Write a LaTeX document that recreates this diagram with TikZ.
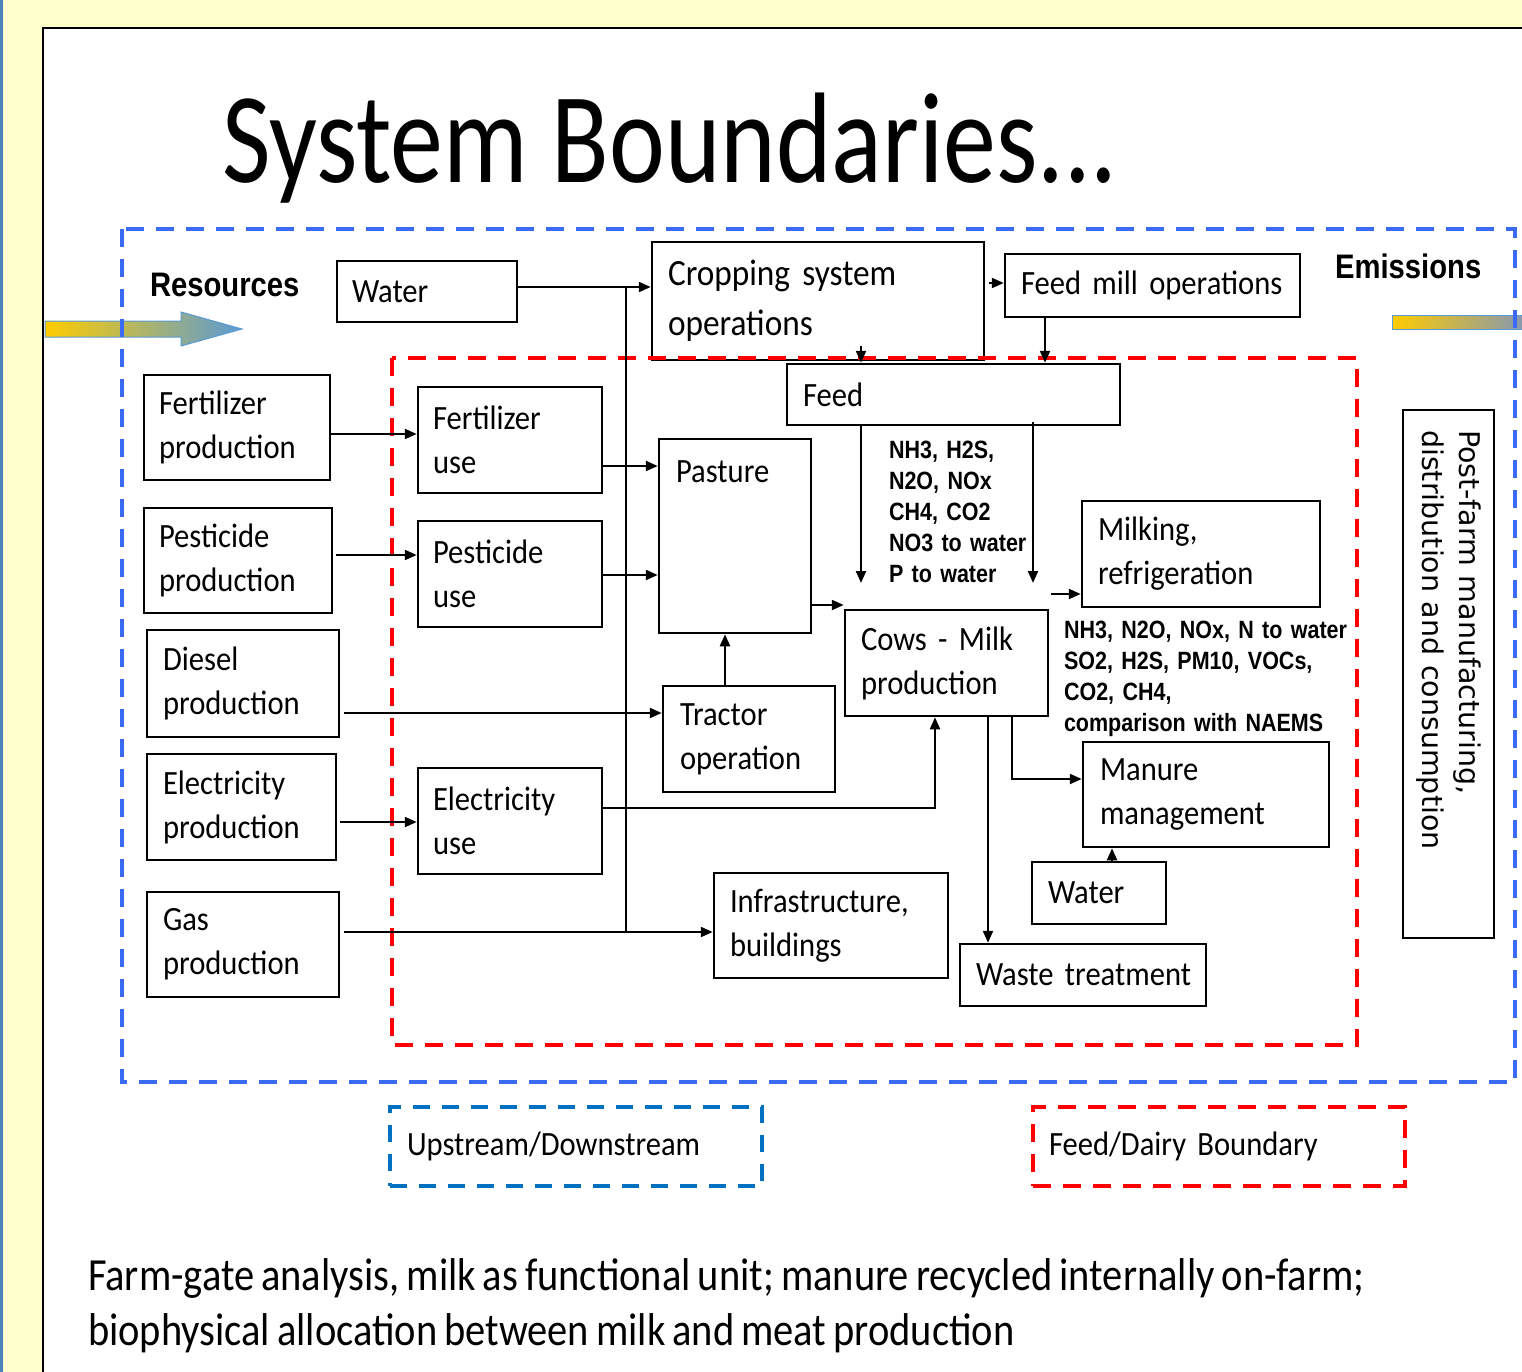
\documentclass[tikz,border=0pt]{standalone}
\usepackage{fontspec}
\setmainfont{Carlito}[FakeStretch=0.9]
\newfontfamily\titlefont{Carlito}[FakeStretch=0.82]
\newfontfamily\emfont{Liberation Sans}[FakeStretch=0.86]
\newfontfamily\postfont{DejaVu Sans}
\newfontfamily\notefont{Carlito}[FakeStretch=0.88]
\usetikzlibrary{arrows.meta}
\definecolor{bgyellow}{RGB}{255,255,204}
\definecolor{slideblue}{RGB}{79,129,189}
\definecolor{upblue}{RGB}{59,107,245}
\definecolor{legblue}{RGB}{0,112,192}
\definecolor{dairyred}{RGB}{255,0,0}
\definecolor{arrgold}{RGB}{255,204,0}
\definecolor{arrblue}{RGB}{91,155,213}
\definecolor{arrgrey}{RGB}{130,150,185}

\begin{document}
\begin{tikzpicture}[x=1pt,y=-1pt,
  blk/.style={draw,line width=2.5pt,inner sep=0pt,align=left,font=\fontsize{34}{44}\selectfont},
  arr/.style={line width=2.2pt,-{Triangle[length=12pt,width=10pt]}},
  wire/.style={line width=2.2pt},
  txt/.style={inner sep=0pt,outer sep=0pt,anchor=base west},
  emtxt/.style={txt,align=left,font=\emfont\bfseries\fontsize{25}{31}\selectfont},
  updash/.style={draw=upblue,line width=4pt,dash pattern=on 18pt off 12pt},
  legdash/.style={draw=legblue,line width=4pt,dash pattern=on 17pt off 12pt},
  dairydash/.style={draw=dairyred,line width=4pt,dash pattern=on 18pt off 12pt}]
\path[use as bounding box] (0,0) rectangle (1522,1372);
\fill[bgyellow] (0,0) rectangle (1522,1372);
\fill[white] (43,28) rectangle (1522,1372);
\draw[line width=2pt] (43,1372) -- (43,28) -- (1522,28);
\draw[slideblue,line width=3pt] (1.5,0) -- (1.5,1372);
\node[txt,font=\titlefont\fontsize{129}{140}\selectfont] (title) at (222,183) {System Boundaries...};
\shade[left color=arrgold,right color=arrblue,draw=arrblue,line width=1pt] (45,321) -- (181,321) -- (181,312) -- (242,329) -- (181,346) -- (181,337) -- (45,337) -- cycle;
\shade[left color=arrgold,right color=arrgrey,draw=arrblue,line width=1pt] (1392,315) rectangle (1530,329);
\draw[updash] (122,229) rectangle (1515,1082);
\node[txt,font=\emfont\bfseries\fontsize{34}{40}\selectfont] (resources) at (150,296) {Resources};
\node[txt,font=\emfont\bfseries\fontsize{34}{40}\selectfont] (emissions) at (1335,278) {Emissions};
\node[blk,minimum width=180pt,minimum height=61pt,text width=150pt] (waterT) at (427,291.5) {Water};
\node[blk,minimum width=332pt,minimum height=118pt,text width=300pt,font=\fontsize{37}{50}\selectfont] (crop) at (818,301) {Cropping system\\operations};
\node[blk,minimum width=295pt,minimum height=63pt,text width=263pt] (feedmill) at (1152.5,285.5) {Feed mill operations};
\node[blk,minimum width=333pt,minimum height=61pt,text width=301pt] (feed) at (953.5,394.5) {Feed};
\node[blk,minimum width=186pt,minimum height=105pt,text width=156pt] (fertprod) at (237,427.5) {Fertilizer\\production};
\node[blk,minimum width=188pt,minimum height=105pt,text width=158pt] (pestprod) at (238,560.5) {Pesticide\\production};
\node[blk,minimum width=192pt,minimum height=107pt,text width=160pt] (dieselprod) at (243,683.5) {Diesel\\production};
\node[blk,minimum width=189pt,minimum height=106pt,text width=157pt] (elecprod) at (241.5,807) {Electricity\\production};
\node[blk,minimum width=192pt,minimum height=105pt,text width=160pt] (gasprod) at (243,944.5) {Gas\\production};
\node[blk,minimum width=184pt,minimum height=106pt,text width=154pt] (fertuse) at (510,440) {Fertilizer\\use};
\node[blk,minimum width=184pt,minimum height=106pt,text width=154pt] (pestuse) at (510,574) {Pesticide\\use};
\node[blk,minimum width=184pt,minimum height=106pt,text width=154pt] (elecuse) at (510,821) {Electricity\\use};
\node[blk,minimum width=152pt,minimum height=194pt] (pasture) at (735,536) {};
\node[txt,font=\fontsize{34}{44}\selectfont] (pasturelbl) at (676,482) {Pasture};
\node[blk,minimum width=172pt,minimum height=106pt,text width=138pt] (tractor) at (749,739) {Tractor\\operation};
\node[blk,minimum width=203pt,minimum height=106pt,text width=171pt] (cows) at (946.5,663) {Cows - Milk\\production};
\node[blk,minimum width=238pt,minimum height=106pt,text width=206pt] (milking) at (1201,554) {Milking,\\refrigeration};
\node[blk,minimum width=246pt,minimum height=105pt,text width=212pt] (manure) at (1206,794.5) {Manure\\management};
\node[blk,minimum width=134pt,minimum height=62pt,text width=102pt] (waterB) at (1099,893) {Water};
\node[blk,minimum width=246pt,minimum height=62pt,text width=214pt] (waste) at (1083,975) {\mbox{Waste treatment}};
\node[blk,minimum width=234pt,minimum height=105pt,text width=202pt] (infra) at (831,925.5) {Infrastructure,\\buildings};
\node[blk,rotate=-90,minimum width=528pt,minimum height=91pt,text width=488pt,font=\postfont\fontsize{28.5}{37}\selectfont] (postfarm) at (1448.5,674) {Post-farm manufacturing,\\distribution and consumption};
\draw[dairydash] (392,358) rectangle (1357,1045);
\node[emtxt,text width=200pt] (emfeed) at (889,458) {NH3, H2S,\\N2O, NOx\\CH4, CO2\\NO3 to water\\P to water};
\node[emtxt,text width=300pt] (emcows) at (1064,638) {NH3, N2O, NOx, N to water\\SO2, H2S, PM10, VOCs,\\CO2, CH4,\\comparison with NAEMS};
\coordinate (gasbus) at (626,932);
\coordinate (dropA) at (861,583);
\coordinate (dropB) at (1033,583);
\draw[arr] (waterT.east |- 0,287) -- (crop.west |- 0,287);
\draw[wire] (gasbus) -- (gasbus |- 0,287);
\draw[arr] (gasprod.east |- gasbus) ++(4,0) -- (infra.west |- gasbus);
\draw[arr] (crop.east |- 0,283) ++(4,0) -- (feedmill.west |- 0,283);
\draw[arr] (crop.south -| dropA) ++(0,-15) -- (feed.north -| dropA);
\draw[arr] (feedmill.south -| 1045,0) -- (feed.north -| 1045,0);
\draw[arr] (feed.south -| dropA) -- (dropA);
\draw[arr] (feed.south -| dropB) ++(0,-4) -- (dropB);
\draw[arr] (fertprod.east |- 0,434) -- (fertuse.west |- 0,434);
\draw[arr] (pestprod.east |- 0,555) ++(3,0) -- (pestuse.west |- 0,555);
\draw[arr] (dieselprod.east |- 0,713) ++(4,0) -- (tractor.west |- 0,713);
\draw[arr] (elecprod.east |- 0,822) ++(3,0) -- (elecuse.west |- 0,822);
\draw[arr] (fertuse.east |- 0,466) -- (pasture.west |- 0,466);
\draw[arr] (pestuse.east |- 0,575) -- (pasture.west |- 0,575);
\draw[arr] (tractor.north -| 725,0) -- (pasture.south -| 725,0);
\draw[arr] (pasture.east |- 0,605) -- (cows.west |- 0,605);
\draw[arr] (elecuse.east |- 0,808) -| (cows.south -| 935,0);
\draw[arr] (cows.east |- 0,594) ++(2,0) -- (milking.west |- 0,594);
\draw[arr] (cows.south -| 1012,0) |- (manure.west |- 0,779);
\draw[arr] (cows.south -| 988,0) -- (waste.north -| 988,0);
\draw[arr] (waterB.north -| 1112,0) -- (manure.south -| 1112,0);
\node[legdash,minimum width=372pt,minimum height=79pt,text width=338pt,align=left,inner sep=0pt,font=\fontsize{34}{40}\selectfont] (uplegend) at (576,1146.5) {Upstream/Downstream};
\node[dairydash,minimum width=372pt,minimum height=79pt,text width=340pt,align=left,inner sep=0pt,font=\fontsize{34}{40}\selectfont] (dairylegend) at (1219,1146.5) {Feed/Dairy Boundary};
\node[txt,text width=1420pt,align=left,font=\notefont\fontsize{46}{55}\selectfont] (note) at (88,1290) {\spaceskip=7pt\relax Farm-gate analysis, milk as functional unit; manure recycled internally on-farm;\\biophysical allocation between milk and meat production};
\end{tikzpicture}
\end{document}
